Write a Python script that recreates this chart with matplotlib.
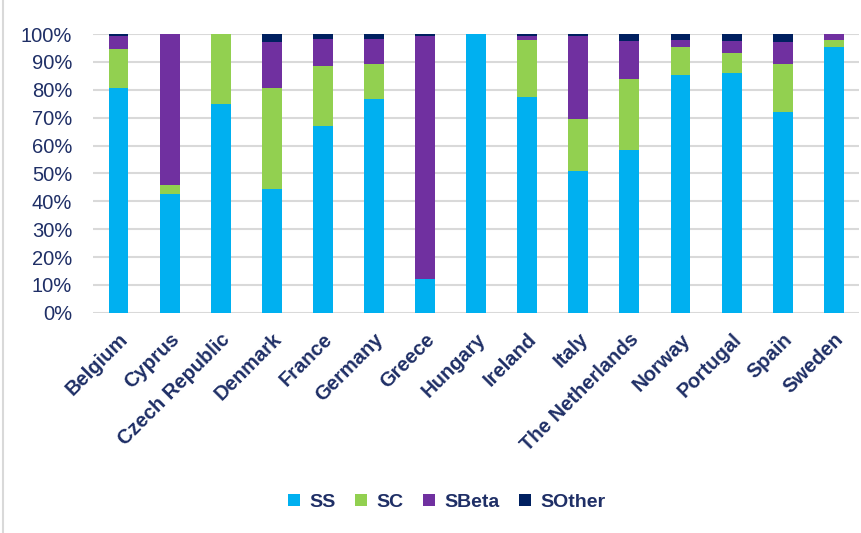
import matplotlib
matplotlib.use("Agg")
import matplotlib.pyplot as plt
import numpy as np
from matplotlib.lines import Line2D

countries = ["Belgium", "Cyprus", "Czech Republic", "Denmark", "France", "Germany",
             "Greece", "Hungary", "Ireland", "Italy", "The Netherlands", "Norway",
             "Portugal", "Spain", "Sweden"]
ss = [80.8, 42.5, 74.8, 44.4, 66.9, 76.8, 12.2, 100.0, 77.4, 51.0, 58.3, 85.3, 86.0, 72.2, 95.2]
sc = [13.7, 3.3, 25.2, 36.2, 21.7, 12.5, 0.0, 0.0, 20.4, 18.5, 25.7, 9.9, 7.2, 17.0, 2.8]
sbeta = [5.0, 54.2, 0.0, 16.5, 9.8, 9.1, 87.0, 0.0, 1.5, 29.7, 13.7, 2.8, 4.5, 7.9, 2.0]
sother = [0.5, 0.0, 0.0, 2.9, 1.6, 1.6, 0.8, 0.0, 0.7, 0.8, 2.3, 2.0, 2.3, 2.9, 0.0]

series = [("SS", ss, "#00B0F0"), ("SC", sc, "#92D050"),
          ("SBeta", sbeta, "#7030A0"), ("SOther", sother, "#002060")]

navy = "#1F2F66"
plt.rcParams["font.family"] = ["Liberation Sans", "DejaVu Sans"]

fig = plt.figure(figsize=(8.61, 5.33), dpi=100)
ax = fig.add_axes([0.108, 0.413, 0.89, 0.523])

x = np.arange(len(countries))
bottom = np.zeros(len(countries))
for name, vals, color in series:
    vals = np.array(vals)
    ax.bar(x, vals, 0.39, bottom=bottom, color=color, label=name, zorder=3)
    bottom += vals

ax.set_xlim(-0.5, len(countries) - 0.5)
ax.set_ylim(0, 100)
ax.set_yticks(np.arange(0, 101, 10))
ax.set_yticklabels([f"{v}%" for v in range(0, 101, 10)], color=navy, fontsize=14.5)
ax.set_xticks(x)
ax.set_xticklabels(countries, rotation=45, ha="right", rotation_mode="anchor",
                   fontsize=14.5, fontweight="bold", color=navy)
ax.tick_params(length=0, axis="both")
ax.tick_params(axis="y", pad=15)
ax.tick_params(axis="x", pad=12)
ax.grid(axis="y", color="#D9D9D9", linewidth=1.5, zorder=0)
for s in ax.spines.values():
    s.set_visible(False)

handles, labels = ax.get_legend_handles_labels()
leg = fig.legend(handles, labels, loc="center", bbox_to_anchor=(0.519, 0.058), ncol=4,
                 frameon=False, handlelength=0.6, handleheight=0.6, handletextpad=0.5,
                 columnspacing=1.0, prop={"size": 14, "weight": "bold"})
for t in leg.get_texts():
    t.set_color(navy)

fig.add_artist(Line2D([0.004, 0.004], [0.0, 1.0], color="#D9D9D9", linewidth=1.5,
                      transform=fig.transFigure))

fig.savefig("out.png", dpi=100)
